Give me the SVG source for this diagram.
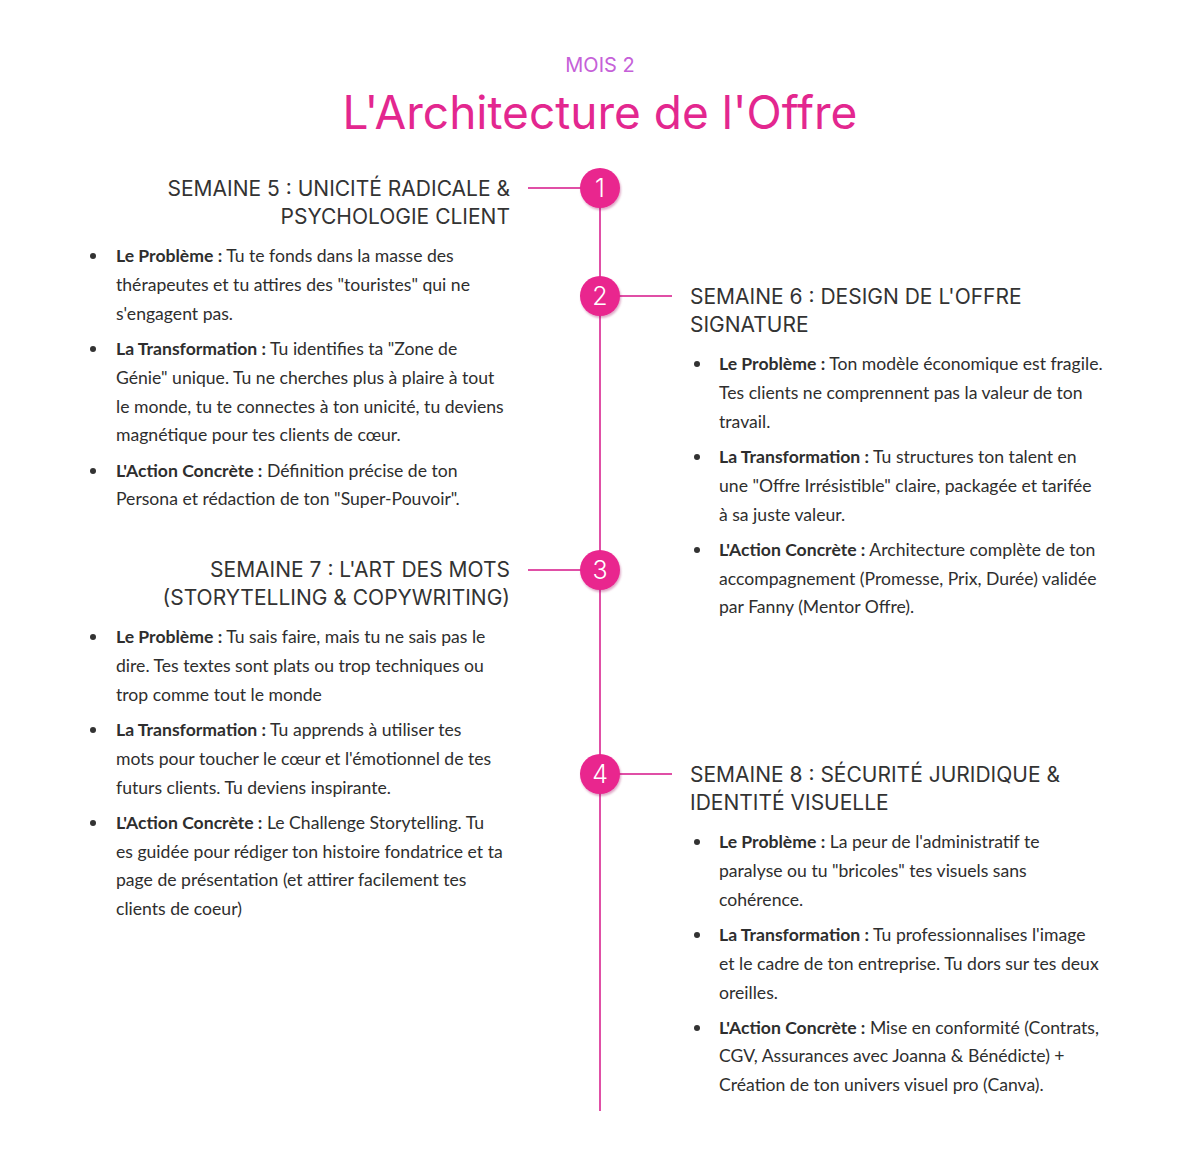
<svg xmlns="http://www.w3.org/2000/svg" width="1200" height="1163" viewBox="0 0 1200 1163">
<defs>
<style>
.bg{fill:#ffffff}
.kicker{font-family:"Inter","Noto Sans",sans-serif;font-size:20px;fill:#c560d8;text-anchor:middle}
.title{font-family:"Inter","Noto Sans",sans-serif;font-size:46px;fill:#e3278f;text-anchor:middle}
.hd{font-family:"Inter","Noto Sans",sans-serif;font-size:21px;fill:#333333}
.hl{text-anchor:end}
.tx{font-family:"Lato","Liberation Sans",sans-serif;font-size:17.6px;fill:#2e2e2e}
.tx tspan.b{font-weight:700}
.dot{fill:#333333}
.line{stroke:#e04fa6;stroke-width:2;fill:none}
.circ{fill:#e9258e}
.num{font-family:"Inter","Noto Sans",sans-serif;font-size:25px;font-weight:300;fill:#ffffff;text-anchor:middle}
</style>
<filter id="sh" x="-30%" y="-30%" width="160%" height="160%">
<feDropShadow dx="1" dy="2" stdDeviation="1" flood-color="#a0105a" flood-opacity="0.35"/>
</filter>
</defs>
<rect class="bg" x="0" y="0" width="1200" height="1163"/>
<g id="header">
<text class="kicker" x="600" y="72">MOIS 2</text>
<text class="title" x="600" y="129">L'Architecture de l'Offre</text>
</g>
<g id="connectors">
<line class="line" x1="600" y1="190" x2="600" y2="1111"/>
<line class="line" x1="528" y1="188" x2="582" y2="188"/>
<line class="line" x1="618" y1="296" x2="672" y2="296"/>
<line class="line" x1="528" y1="570" x2="582" y2="570"/>
<line class="line" x1="618" y1="774" x2="672" y2="774"/>
</g>
<g id="node-1">
<circle class="circ" cx="600" cy="188" r="20" filter="url(#sh)"/>
<text class="num" x="600" y="197">1</text>
</g>
<g id="node-2">
<circle class="circ" cx="600" cy="296" r="20" filter="url(#sh)"/>
<text class="num" x="600" y="305">2</text>
</g>
<g id="node-3">
<circle class="circ" cx="600" cy="570" r="20" filter="url(#sh)"/>
<text class="num" x="600" y="579">3</text>
</g>
<g id="node-4">
<circle class="circ" cx="600" cy="774" r="20" filter="url(#sh)"/>
<text class="num" x="600" y="783">4</text>
</g>
<g id="week-5">
<text class="hd hl" x="510" y="196">SEMAINE 5 : UNICITÉ RADICALE &amp;</text>
<text class="hd hl" x="510" y="224">PSYCHOLOGIE CLIENT</text>
<circle class="dot" cx="93" cy="256" r="3"/>
<text class="tx" x="116" y="262"><tspan class="b">Le Problème :</tspan> Tu te fonds dans la masse des</text>
<text class="tx" x="116" y="291">thérapeutes et tu attires des "touristes" qui ne</text>
<text class="tx" x="116" y="320">s'engagent pas.</text>
<circle class="dot" cx="93" cy="349" r="3"/>
<text class="tx" x="116" y="355"><tspan class="b">La Transformation :</tspan> Tu identifies ta "Zone de</text>
<text class="tx" x="116" y="384">Génie" unique. Tu ne cherches plus à plaire à tout</text>
<text class="tx" x="116" y="413">le monde, tu te connectes à ton unicité, tu deviens</text>
<text class="tx" x="116" y="441">magnétique pour tes clients de cœur.</text>
<circle class="dot" cx="93" cy="471" r="3"/>
<text class="tx" x="116" y="477"><tspan class="b">L'Action Concrète :</tspan> Définition précise de ton</text>
<text class="tx" x="116" y="505">Persona et rédaction de ton "Super-Pouvoir".</text>
</g>
<g id="week-6">
<text class="hd" x="690" y="304">SEMAINE 6 : DESIGN DE L'OFFRE</text>
<text class="hd" x="690" y="332">SIGNATURE</text>
<circle class="dot" cx="697" cy="364" r="3"/>
<text class="tx" x="719" y="370"><tspan class="b">Le Problème :</tspan> Ton modèle économique est fragile.</text>
<text class="tx" x="719" y="399">Tes clients ne comprennent pas la valeur de ton</text>
<text class="tx" x="719" y="428">travail.</text>
<circle class="dot" cx="697" cy="457" r="3"/>
<text class="tx" x="719" y="463"><tspan class="b">La Transformation :</tspan> Tu structures ton talent en</text>
<text class="tx" x="719" y="492">une "Offre Irrésistible" claire, packagée et tarifée</text>
<text class="tx" x="719" y="521">à sa juste valeur.</text>
<circle class="dot" cx="697" cy="550" r="3"/>
<text class="tx" x="719" y="556"><tspan class="b">L'Action Concrète :</tspan> Architecture complète de ton</text>
<text class="tx" x="719" y="585">accompagnement (Promesse, Prix, Durée) validée</text>
<text class="tx" x="719" y="613">par Fanny (Mentor Offre).</text>
</g>
<g id="week-7">
<text class="hd hl" x="510" y="577">SEMAINE 7 : L'ART DES MOTS</text>
<text class="hd hl" x="510" y="605">(STORYTELLING &amp; COPYWRITING)</text>
<circle class="dot" cx="93" cy="637" r="3"/>
<text class="tx" x="116" y="643"><tspan class="b">Le Problème :</tspan> Tu sais faire, mais tu ne sais pas le</text>
<text class="tx" x="116" y="672">dire. Tes textes sont plats ou trop techniques ou</text>
<text class="tx" x="116" y="701">trop comme tout le monde</text>
<circle class="dot" cx="93" cy="730" r="3"/>
<text class="tx" x="116" y="736"><tspan class="b">La Transformation :</tspan> Tu apprends à utiliser tes</text>
<text class="tx" x="116" y="765">mots pour toucher le cœur et l'émotionnel de tes</text>
<text class="tx" x="116" y="794">futurs clients. Tu deviens inspirante.</text>
<circle class="dot" cx="93" cy="823" r="3"/>
<text class="tx" x="116" y="829"><tspan class="b">L'Action Concrète :</tspan> Le Challenge Storytelling. Tu</text>
<text class="tx" x="116" y="858">es guidée pour rédiger ton histoire fondatrice et ta</text>
<text class="tx" x="116" y="886">page de présentation (et attirer facilement tes</text>
<text class="tx" x="116" y="915">clients de coeur)</text>
</g>
<g id="week-8">
<text class="hd" x="690" y="782">SEMAINE 8 : SÉCURITÉ JURIDIQUE &amp;</text>
<text class="hd" x="690" y="810">IDENTITÉ VISUELLE</text>
<circle class="dot" cx="697" cy="842" r="3"/>
<text class="tx" x="719" y="848"><tspan class="b">Le Problème :</tspan> La peur de l'administratif te</text>
<text class="tx" x="719" y="877">paralyse ou tu "bricoles" tes visuels sans</text>
<text class="tx" x="719" y="906">cohérence.</text>
<circle class="dot" cx="697" cy="935" r="3"/>
<text class="tx" x="719" y="941"><tspan class="b">La Transformation :</tspan> Tu professionnalises l'image</text>
<text class="tx" x="719" y="970">et le cadre de ton entreprise. Tu dors sur tes deux</text>
<text class="tx" x="719" y="999">oreilles.</text>
<circle class="dot" cx="697" cy="1028" r="3"/>
<text class="tx" x="719" y="1034"><tspan class="b">L'Action Concrète :</tspan> Mise en conformité (Contrats,</text>
<text class="tx" x="719" y="1062">CGV, Assurances avec Joanna &amp; Bénédicte) +</text>
<text class="tx" x="719" y="1091">Création de ton univers visuel pro (Canva).</text>
</g>
</svg>
